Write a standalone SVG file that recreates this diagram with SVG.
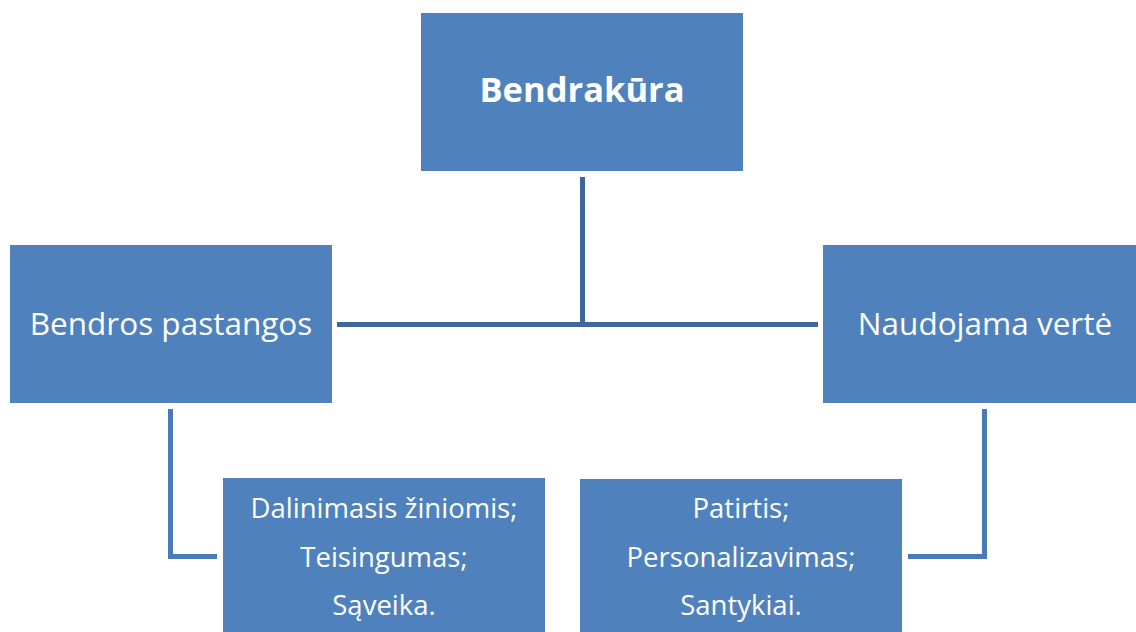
<svg xmlns="http://www.w3.org/2000/svg" width="1136" height="632" viewBox="0 0 1136 632">
<style>
.box{fill:#4f81bd}
.t{fill:#ffffff;font-family:"Open Sans","Liberation Sans",sans-serif;text-anchor:middle}
.big{font-size:31.5px}
.sm{font-size:27.5px}
.ln{fill:none;stroke-width:5;stroke-linecap:butt;stroke-linejoin:miter}
.main{stroke:#3f6898}
.sub{stroke:#4a7bb8}
</style>
<rect width="1136" height="632" fill="#ffffff"/>
<g id="connectors">
<path class="ln main" d="M582.5,177 V322"/>
<path class="ln main" d="M337,324.5 H818"/>
<path class="ln sub" d="M170.5,409 V556.5 H217"/>
<path class="ln sub" d="M984.5,409 V556.5 H908"/>
</g>
<g id="node-bendrakura">
<rect class="box" x="421" y="13" width="322" height="158"/>
<text class="t" x="582" y="102" style="font-size:34.5px;font-weight:bold">Bendrakūra</text>
</g>
<g id="node-bendros-pastangos">
<rect class="box" x="10" y="245" width="322" height="158"/>
<text class="t big" x="171" y="335">Bendros pastangos</text>
</g>
<g id="node-naudojama-verte">
<rect class="box" x="823" y="245" width="324" height="158"/>
<text class="t big" x="985" y="335">Naudojama vertė</text>
</g>
<g id="node-left-items">
<rect class="box" x="223" y="478" width="322" height="160"/>
<text class="t sm" x="384" y="518">Dalinimasis žiniomis;</text>
<text class="t sm" x="384" y="567">Teisingumas;</text>
<text class="t sm" x="384" y="615">Sąveika.</text>
</g>
<g id="node-right-items">
<rect class="box" x="580" y="479" width="322" height="160"/>
<text class="t sm" x="741" y="518">Patirtis;</text>
<text class="t sm" x="741" y="567">Personalizavimas;</text>
<text class="t sm" x="741" y="615">Santykiai.</text>
</g>
</svg>
